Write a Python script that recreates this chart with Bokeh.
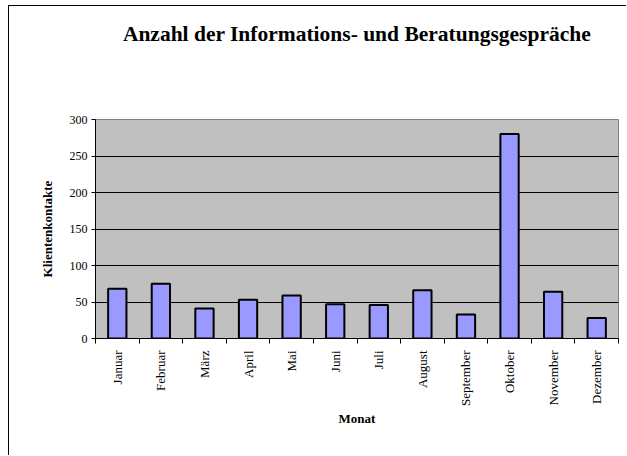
import numpy as np
from bokeh.plotting import figure
from bokeh.models import Range1d, FixedTicker, LinearAxis, ColumnDataSource
from bokeh.embed import file_html
from bokeh.resources import INLINE

months = ["Januar", "Februar", "März", "April", "Mai", "Juni", "Juli",
          "August", "September", "Oktober", "November", "Dezember"]
contacts = [68, 75, 41, 53, 59, 47, 46, 66, 33, 280, 64, 28]
y_ticks = [0, 50, 100, 150, 200, 250, 300]

title_text = "Anzahl der Informations- und Beratungsgespräche"
x_label = "Monat"
y_label = "Klientenkontakte"

FONT = "Liberation Serif"

n = len(months)
centers = list(np.arange(n) + 0.5)
bounds = list(np.arange(n + 1).astype(float))

src = ColumnDataSource(dict(x=centers, top=contacts, month=months))

p = figure(width=618, height=450, output_backend="svg", toolbar_location=None,
           x_range=Range1d(0, n), y_range=Range1d(0, 300),
           min_border_left=86, min_border_right=9,
           min_border_top=113, min_border_bottom=118)
p.margin = (6, 0, 0, 9)

p.background_fill_color = "#C0C0C0"
p.border_fill_color = "white"
p.outline_line_color = "#808080"
p.outline_line_width = 1
p.styles = {"box-shadow": "-1px -1px 0 0 #000000"}

p.vbar(x="x", top="top", width=0.42, bottom=0, source=src,
       fill_color="#9999FF", line_color="black", line_width=2)

# grid
p.xgrid.grid_line_color = None
p.ygrid.grid_line_color = "black"
p.ygrid.grid_line_width = 1
p.ygrid.ticker = FixedTicker(ticks=y_ticks)

# y axis
ya = p.yaxis[0]
ya.ticker = FixedTicker(ticks=y_ticks)
ya.axis_line_color = "black"
ya.major_tick_out = 4
ya.major_tick_in = 0
ya.minor_tick_line_color = None
ya.major_label_text_font = FONT
ya.major_label_text_font_size = "12px"
ya.major_label_text_color = "black"
ya.major_label_standoff = 4
ya.axis_label = y_label
ya.axis_label_text_font = FONT
ya.axis_label_text_font_size = "13px"
ya.axis_label_text_font_style = "bold"
ya.axis_label_text_color = "black"
ya.axis_label_standoff = 12

# x axis
xa = p.xaxis[0]
xa.ticker = FixedTicker(ticks=centers, minor_ticks=bounds)
xa.major_label_overrides = {c: m for c, m in zip(centers, months)}
xa.major_tick_line_color = None
xa.major_tick_out = 0
xa.major_tick_in = 0
xa.minor_tick_line_color = "black"
xa.minor_tick_out = 5
xa.minor_tick_in = 0
xa.axis_line_color = "black"
xa.major_label_orientation = np.pi / 2
xa.major_label_text_font = FONT
xa.major_label_text_font_size = "13px"
xa.major_label_text_color = "black"
xa.major_label_standoff = 7
xa.axis_label = x_label
xa.axis_label_text_font = FONT
xa.axis_label_text_font_size = "13px"
xa.axis_label_text_font_style = "bold"
xa.axis_label_text_color = "black"
xa.axis_label_standoff = 2

# chart title, carried by an invisible axis above the plot area
ta = LinearAxis(ticker=FixedTicker(ticks=[]), axis_line_color=None,
                major_tick_line_color=None, minor_tick_line_color=None,
                major_tick_out=0, major_tick_in=0, minor_tick_out=0,
                major_label_text_font_size="0px",
                axis_label=title_text, axis_label_standoff=74,
                axis_label_align="center",
                axis_label_text_font=FONT, axis_label_text_font_size="21.5px",
                axis_label_text_font_style="bold", axis_label_text_color="black")
p.add_layout(ta, "above")

open("out.html", "w").write(file_html(p, INLINE))
